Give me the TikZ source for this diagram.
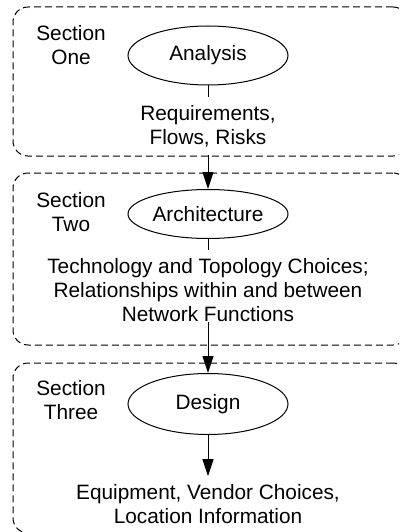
\documentclass[tikz,border=0pt]{standalone}
\usepackage{fontspec}
\setmainfont{Liberation Sans}
\usetikzlibrary{shapes.geometric,arrows.meta,fit,positioning}

\begin{document}
\begin{tikzpicture}[x=1pt,y=-1pt]

  \tikzstyle{secbox} = [draw, dash pattern=on 7pt off 4pt, rounded corners=15pt, line width=1pt, inner sep=0pt]
  \tikzstyle{phase} = [draw, ellipse, minimum width=160pt, inner sep=0pt, line width=1pt]
  \tikzstyle{txt} = [align=center, inner xsep=2pt, inner ysep=8pt]
  \tikzstyle{conn} = [-{Triangle[length=17pt,width=11pt]}, color=black!100, line width=1pt]

  \clip (0,0) rectangle (399,532);

  \begin{scope}[every node/.append style={font=\fontsize{20.8}{24}\selectfont}]
    % dashed section frames
    \node[secbox, fit={(13,7) (408,156)}] (sec1) {};
    \node[secbox, fit={(13,173) (408,345)}] (sec2) {};
    \node[secbox, fit={(13,363) (408,533)}] (sec3) {};

    \node[align=center] (lab1) at (71,45) {Section\\One};
    \node[align=center] (lab2) at (71,212) {Section\\Two};
    \node[align=center] (lab3) at (71,400) {Section\\Three};

    \node[phase, minimum height=59pt] (ana) at (208,55.5) {Analysis};
    \node[phase, minimum height=49pt] (arch) at (208,214) {Architecture};
    \node[phase, minimum height=61pt] (des) at (208,404) {Design};

    \node[txt] (req) at (208,126) {Requirements,\\Flows, Risks};
    \node[txt] (tech) at (208,290) {Technology and Topology Choices;\\Relationships within and between\\Network Functions};
    \node[txt] (equip) at (208,504) {Equipment, Vendor Choices,\\Location Information};
  \end{scope}

  \draw[-,color=black!100,line width=1pt] (ana) -- (req);
  \draw[conn] (req) -- (arch);
  \draw[-,color=black!100,line width=1pt] (arch) -- (tech);
  \draw[conn, shorten <=-8pt] (tech) -- (des);
  \draw[conn] (des) -- (equip);

\end{tikzpicture}
\end{document}
